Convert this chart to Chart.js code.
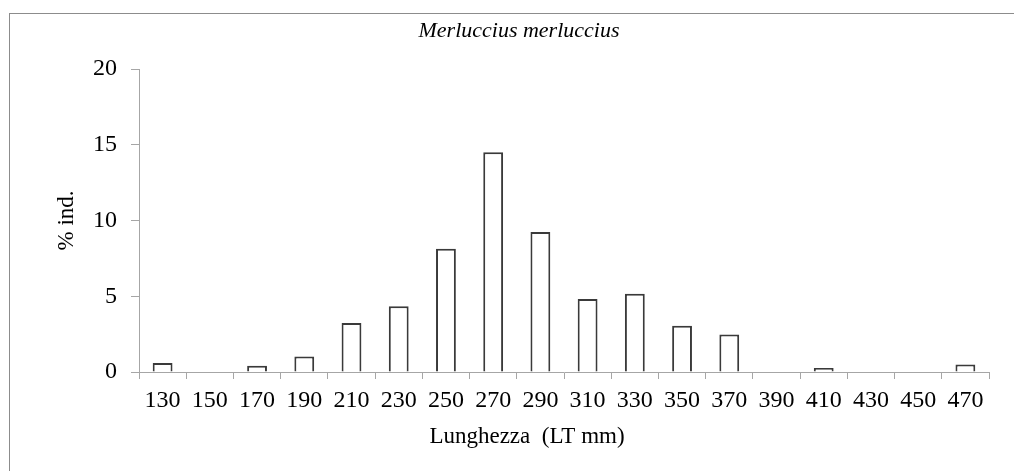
<!DOCTYPE html>
<html lang="it">
<head>
    <meta charset="UTF-8">
    <title>Merluccius merluccius</title>
    <script src="https://cdn.jsdelivr.net/npm/chart.js"></script>
    <style>
        body {
            margin: 0;
            background: #fff;
            overflow: hidden;
        }
        .frame {
            position: absolute;
            left: 9px;
            top: 13px;
            width: 1100px;
            height: 600px;
            border-left: 1px solid #8c8c8c;
            border-top: 1px solid #8c8c8c;
        }
        .chart-container {
            position: absolute;
            left: 0;
            top: 0;
            width: 1014px;
            height: 471px;
        }
    </style>
</head>
<body>
    <div class="frame"></div>
    <div class="chart-container">
        <canvas id="lengthChart"></canvas>
    </div>

    <script>
        // Length classes (LT mm)
        const lengthClasses = ['130', '150', '170', '190', '210', '230', '250', '270', '290',
                               '310', '330', '350', '370', '390', '410', '430', '450', '470'];
        // % of individuals per class
        const percentInd = [0.6, 0, 0.42, 1.02, 3.23, 4.34, 8.14, 14.5, 9.24,
                            4.82, 5.17, 3.06, 2.47, 0, 0.26, 0, 0, 0.5];
        const yTicks = [0, 5, 10, 15, 20];

        const chartTitle = 'Merluccius merluccius';
        const xTitle = 'Lunghezza  (LT mm)';
        const yTitle = '% ind.';

        const axisGray = '#a6a6a6';
        const serif = 'Liberation Serif';

        // titles drawn by hand so they sit where the original has them
        const titlesPlugin = {
            id: 'titles',
            afterDraw(chart) {
                const ctx = chart.ctx;
                const area = chart.chartArea;
                ctx.save();
                ctx.fillStyle = '#000';
                ctx.textAlign = 'center';
                ctx.textBaseline = 'middle';
                ctx.font = 'italic 22px "' + serif + '"';
                ctx.fillText(chartTitle, 519, 31);
                ctx.font = '23px "' + serif + '"';
                ctx.fillText(xTitle, 527, 437);
                ctx.translate(67, (area.top + area.bottom) / 2);
                ctx.rotate(-Math.PI / 2);
                ctx.fillText(yTitle, 0, 0);
                ctx.restore();
            }
        };

        const ctx = document.getElementById('lengthChart').getContext('2d');
        new Chart(ctx, {
            type: 'bar',
            data: {
                labels: lengthClasses,
                datasets: [{
                    data: percentInd,
                    backgroundColor: '#ffffff',
                    borderColor: '#3a3a3a',
                    borderWidth: 2,
                    borderSkipped: 'bottom',
                    barPercentage: 0.42,
                    categoryPercentage: 1
                }]
            },
            options: {
                responsive: true,
                maintainAspectRatio: false,
                animation: false,
                layout: {
                    padding: { top: 69, right: 25, bottom: 0, left: 0 }
                },
                plugins: {
                    legend: { display: false },
                    tooltip: { enabled: false }
                },
                scales: {
                    x: {
                        grid: {
                            offset: true,
                            drawOnChartArea: false,
                            color: axisGray,
                            tickLength: 7
                        },
                        border: { color: axisGray, width: 1 },
                        ticks: {
                            color: '#000',
                            font: { family: serif, size: 24 },
                            padding: 7,
                            maxRotation: 0,
                            autoSkip: false
                        },
                        afterFit(scale) { scale.height = 99; }
                    },
                    y: {
                        min: 0,
                        max: 20,
                        afterBuildTicks(scale) {
                            scale.ticks = yTicks.map(v => ({ value: v }));
                        },
                        grid: {
                            drawOnChartArea: false,
                            color: axisGray,
                            tickLength: 8
                        },
                        border: { color: axisGray, width: 1 },
                        ticks: {
                            color: '#000',
                            font: { family: serif, size: 24 },
                            padding: 14
                        },
                        afterFit(scale) { scale.width = 139; }
                    }
                }
            },
            plugins: [titlesPlugin]
        });
    </script>
</body>
</html>
